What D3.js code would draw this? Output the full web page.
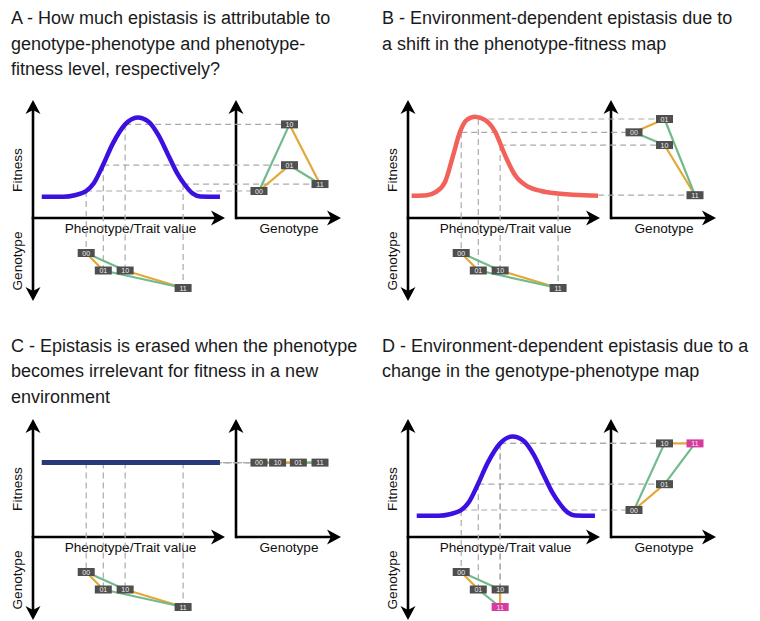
<!DOCTYPE html>
<html>
<head>
<meta charset="utf-8">
<script src="https://cdn.jsdelivr.net/npm/d3@7"></script>
<style>
body { margin: 0; background: #fff; }
text { font-family: "Liberation Sans", Arial, sans-serif; }
</style>
</head>
<body>
<svg id="fig" width="760" height="621"></svg>
<script>
// genotypes and how many mutations each carries
var genotypes = ["00", "01", "10", "11"];
var mutations = [0, 1, 1, 2];
// links between genotypes (single mutation steps)
var edges = [["00", "01", "orange"], ["10", "11", "orange"], ["00", "10", "green"], ["01", "11", "green"]];

// phenotype of each genotype (trait value, 0-10)
var phenotypeABC = [2.8, 3.7, 4.85, 7.9];
var phenotypeD = [2.8, 3.7, 4.85, 4.85];

// fitness of each genotype (0-1)
var fitnessA = [0.225, 0.44, 0.78, 0.283];
var fitnessB = [0.714, 0.825, 0.608, 0.19];
var fitnessC = [0.62, 0.62, 0.62, 0.62];
var fitnessD = [0.225, 0.44, 0.78, 0.78];

// where the genotype sits along the "Genotype" axis of the small panel
var slotDefault = [0, 1, 1, 2];
var slotC = [0, 1.29, 0.61, 2];

// phenotype-fitness maps
var curveAPhen = [0.46, 1.6, 2.2, 2.8, 3.2, 3.68, 4.2, 4.85, 5.5, 6.1, 6.6, 7.1, 7.6, 8.0, 8.4, 8.8, 9.84];
var curveAFit = [0.178, 0.178, 0.19, 0.225, 0.29, 0.44, 0.62, 0.78, 0.838, 0.80, 0.69, 0.53, 0.37, 0.275, 0.205, 0.18, 0.178];
var curveBPhen = [0.19, 1.0, 1.45, 1.95, 2.38, 2.74, 3.09, 3.53, 4.05, 4.58, 5.1, 5.63, 6.33, 7.0, 7.74, 10.0];
var curveBFit = [0.186, 0.19, 0.215, 0.30, 0.525, 0.72, 0.817, 0.844, 0.817, 0.72, 0.525, 0.358, 0.26, 0.225, 0.206, 0.186];
var curveCPhen = [0.46, 9.84];
var curveCFit = [0.62, 0.62];

var titleA = ["A - How much epistasis is attributable to", "genotype-phenotype and phenotype-", "fitness level, respectively?"];
var titleB = ["B - Environment-dependent epistasis due to", "a shift in the phenotype-fitness map"];
var titleC = ["C - Epistasis is erased when the phenotype", "becomes irrelevant for fitness in a new", "environment"];
var titleD = ["D - Environment-dependent epistasis due to a", "change in the genotype-phenotype map"];

var colors = { green: "#72ba8c", orange: "#e3a836" };

var panels = [
	{ ox: 33, oy: 218, tx: 11, ty: 24, title: titleA, phen: phenotypeABC, fit: fitnessA, slot: slotDefault, cPhen: curveAPhen, cFit: curveAFit, color: "#3b10e0", width: 4.5, hot: null },
	{ ox: 408, oy: 218, tx: 382, ty: 24, title: titleB, phen: phenotypeABC, fit: fitnessB, slot: slotDefault, cPhen: curveBPhen, cFit: curveBFit, color: "#f2625a", width: 4.5, hot: null },
	{ ox: 33, oy: 537, tx: 11, ty: 351.5, title: titleC, phen: phenotypeABC, fit: fitnessC, slot: slotC, cPhen: curveCPhen, cFit: curveCFit, color: "#28397a", width: 5, hot: null },
	{ ox: 408, oy: 537, tx: 382, ty: 351.5, title: titleD, phen: phenotypeD, fit: fitnessD, slot: slotDefault, cPhen: curveAPhen, cFit: curveAFit, color: "#3b10e0", width: 4.5, hot: "11" }
];

var svg = d3.select("#fig");

function arrow(g, x, y, angle) {
	g.append("path")
		.attr("d", "M0,0 L-14,-7.5 L-10,0 L-14,7.5 Z")
		.attr("fill", "#000")
		.attr("transform", "translate(" + x + "," + y + ") rotate(" + angle + ")");
}

function drawPanel(p) {
	var g = svg.append("g");
	var rx = p.ox + 203;

	// scales
	var x = d3.scaleLinear().domain([0, 10]).range([p.ox, p.ox + 190]);
	var y = d3.scaleLinear().domain([0, 1]).range([p.oy, p.oy - 120]);
	var slotX = d3.scaleLinear().domain([0, 2]).range([rx + 23, rx + 84]);
	var levelY = d3.scaleLinear().domain([0, 2]).range([p.oy + 35, p.oy + 70]);

	// title
	var t = g.append("text").attr("font-size", 18).attr("fill", "#1a1a1a");
	p.title.forEach(function (line, i) {
		t.append("tspan").attr("x", p.tx).attr("y", p.ty + i * 25.5).text(line);
	});

	// axes
	var ax = g.append("g").attr("stroke", "#000").attr("stroke-width", 2.6);
	ax.append("line").attr("x1", p.ox).attr("x2", p.ox).attr("y1", p.oy + 73).attr("y2", p.oy - 108);
	ax.append("line").attr("x1", p.ox - 1.3).attr("x2", p.ox + 182).attr("y1", p.oy).attr("y2", p.oy);
	ax.append("line").attr("x1", rx).attr("x2", rx).attr("y1", p.oy + 1.3).attr("y2", p.oy - 108);
	ax.append("line").attr("x1", rx).attr("x2", rx + 95).attr("y1", p.oy).attr("y2", p.oy);
	arrow(g, p.ox, p.oy - 118, -90);
	arrow(g, p.ox, p.oy + 83, 90);
	arrow(g, p.ox + 192, p.oy, 0);
	arrow(g, rx, p.oy - 118, -90);
	arrow(g, rx + 105, p.oy, 0);

	// axis labels
	var lab = g.append("g").attr("font-size", 13.6).attr("fill", "#111").attr("text-anchor", "middle");
	lab.append("text").attr("x", p.ox + 97.5).attr("y", p.oy + 15).text("Phenotype/Trait value");
	lab.append("text").attr("x", rx + 53).attr("y", p.oy + 15).text("Genotype");
	lab.append("text").attr("transform", "translate(" + (p.ox - 11) + "," + (p.oy - 48) + ") rotate(-90)").text("Fitness");
	lab.append("text").attr("transform", "translate(" + (p.ox - 11) + "," + (p.oy + 43) + ") rotate(-90)").text("Genotype");

	// dashed guides from the map to both genotype panels
	var guides = g.append("g").attr("stroke", "#aaa").attr("stroke-width", 1.2).attr("stroke-dasharray", "6,4");
	genotypes.forEach(function (gt, i) {
		var px = x(p.phen[i]), py = y(p.fit[i]);
		guides.append("line").attr("x1", px).attr("y1", py).attr("x2", slotX(p.slot[i])).attr("y2", py);
		guides.append("line").attr("x1", px).attr("y1", py).attr("x2", px).attr("y2", levelY(mutations[i]));
	});

	// phenotype-fitness map
	var line = d3.line()
		.x(function (d) { return x(d[0]); })
		.y(function (d) { return y(d[1]); })
		.curve(d3.curveMonotoneX);
	g.append("path")
		.datum(d3.zip(p.cPhen, p.cFit))
		.attr("d", line)
		.attr("fill", "none")
		.attr("stroke", p.color)
		.attr("stroke-width", p.width);

	// genotype networks: fitness landscape (right) and phenotype (below)
	var fitPos = {}, phenPos = {};
	genotypes.forEach(function (gt, i) {
		fitPos[gt] = [slotX(p.slot[i]), y(p.fit[i])];
		phenPos[gt] = [x(p.phen[i]), levelY(mutations[i])];
	});
	[fitPos, phenPos].forEach(function (pos) {
		edges.forEach(function (e) {
			g.append("line")
				.attr("x1", pos[e[0]][0]).attr("y1", pos[e[0]][1])
				.attr("x2", pos[e[1]][0]).attr("y2", pos[e[1]][1])
				.attr("stroke", colors[e[2]])
				.attr("stroke-width", 2.2);
		});
		genotypes.forEach(function (gt) {
			var b = g.append("g").attr("transform", "translate(" + pos[gt][0] + "," + pos[gt][1] + ")");
			b.append("rect")
				.attr("x", -8.5).attr("y", -4).attr("width", 17).attr("height", 8)
				.attr("fill", gt == p.hot ? "#d83a9f" : "#4f4f4f");
			b.append("text")
				.attr("text-anchor", "middle").attr("dy", "0.36em")
				.attr("font-size", 7).attr("fill", "#eee")
				.text(gt);
		});
	});
}

panels.forEach(drawPanel);
</script>
</body>
</html>
